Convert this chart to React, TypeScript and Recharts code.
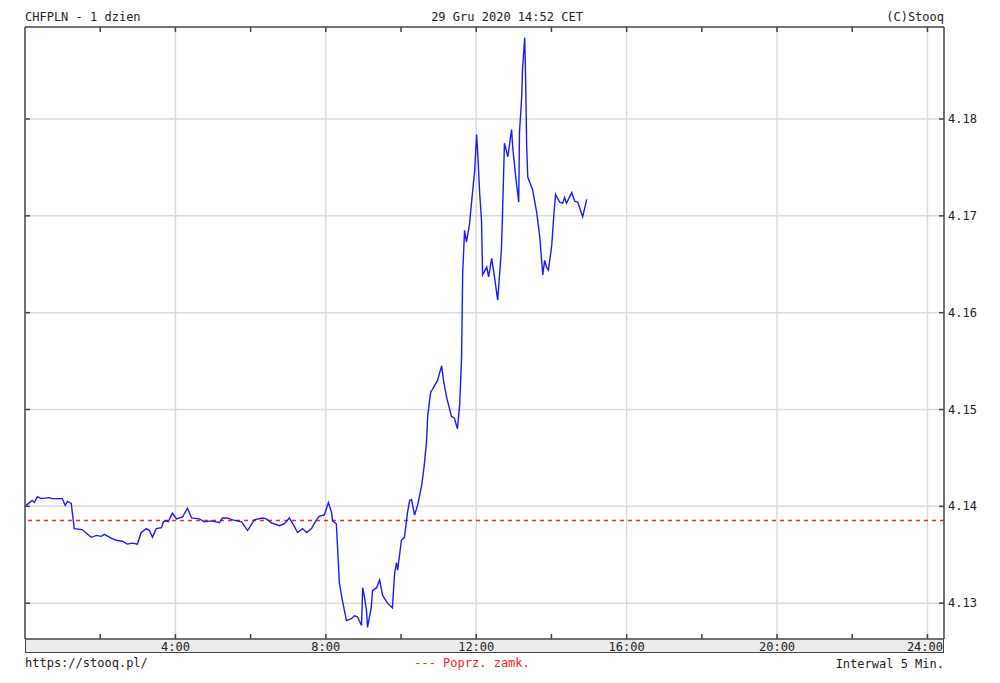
import React from "react";
import {
  CartesianGrid,
  Line,
  LineChart,
  ReferenceLine,
  XAxis,
  YAxis,
} from "recharts";

// CHFPLN intraday, 29 Dec 2020 (hours since midnight, rate)
const HOURS = [
  0.03, 0.19, 0.25, 0.33, 0.43, 0.65, 0.73, 0.99, 1.07, 1.13, 1.23, 1.31, 1.52, 1.76, 1.9,
  2.03, 2.11, 2.3, 2.43, 2.59, 2.72, 2.86, 2.99, 3.09, 3.23, 3.31, 3.39, 3.49, 3.63, 3.68,
  3.76, 3.81, 3.92, 4.03, 4.19, 4.32, 4.43, 4.64, 4.77, 4.96, 5.17, 5.25, 5.38, 5.52, 5.76,
  5.92, 6.1, 6.31, 6.42, 6.55, 6.77, 6.9, 7.03, 7.11, 7.25, 7.38, 7.49, 7.62, 7.75, 7.83,
  7.96, 8.07, 8.15, 8.18, 8.28, 8.36, 8.44, 8.55, 8.68, 8.76, 8.84, 8.95, 8.98, 9.03, 9.08,
  9.11, 9.21, 9.24, 9.35, 9.43, 9.51, 9.64, 9.77, 9.83, 9.88, 9.91, 10.01, 10.09, 10.17,
  10.23, 10.28, 10.36, 10.44, 10.55, 10.62, 10.68, 10.71, 10.79, 10.84, 10.97, 11.08, 11.13,
  11.21, 11.34, 11.42, 11.5, 11.56, 11.61, 11.64, 11.69, 11.74, 11.82, 11.9, 11.96, 12.01,
  12.04, 12.09, 12.14, 12.17, 12.28, 12.33, 12.41, 12.49, 12.57, 12.67, 12.7, 12.75, 12.81,
  12.84, 12.94, 12.97, 13.05, 13.1, 13.13, 13.15, 13.21, 13.23, 13.29, 13.31, 13.34, 13.37,
  13.5, 13.61, 13.69, 13.77, 13.82, 13.87, 13.92, 14.01, 14.06, 14.11, 14.22, 14.3, 14.35,
  14.4, 14.54, 14.62, 14.7, 14.83, 14.94,
];

const RATES = [
  4.1401, 4.1406, 4.1404, 4.141, 4.1408, 4.1409, 4.1408, 4.1408, 4.1401, 4.1405, 4.1403,
  4.1377, 4.1376, 4.1368, 4.137, 4.1369, 4.1371, 4.1367, 4.1365, 4.1364, 4.1361, 4.1362,
  4.1361, 4.1373, 4.1377, 4.1375, 4.1368, 4.1377, 4.1378, 4.1384, 4.1385, 4.1384, 4.1393,
  4.1387, 4.1389, 4.1398, 4.1388, 4.1387, 4.1384, 4.1385, 4.1383, 4.1388, 4.1388, 4.1386,
  4.1384, 4.1375, 4.1386, 4.1388, 4.1387, 4.1383, 4.138, 4.1382, 4.1388, 4.1383, 4.1373,
  4.1377, 4.1373, 4.1377, 4.1386, 4.139, 4.1391, 4.1404, 4.1394, 4.1385, 4.1382, 4.1321,
  4.1303, 4.1282, 4.1284, 4.1287, 4.1286, 4.1277, 4.1316, 4.1306, 4.1293, 4.1275, 4.1296,
  4.1313, 4.1316, 4.1324, 4.1308, 4.13, 4.1295, 4.1331, 4.1342, 4.1334, 4.1365, 4.1368,
  4.1393, 4.1406, 4.1407, 4.1391, 4.1401, 4.1422, 4.1443, 4.1468, 4.1494, 4.1518, 4.1521,
  4.153, 4.1545, 4.153, 4.1513, 4.1493, 4.1491, 4.148, 4.1505, 4.1554, 4.1641, 4.1685,
  4.1673, 4.1691, 4.1724, 4.1747, 4.1784, 4.1765, 4.1724, 4.1696, 4.1639, 4.1647, 4.1637,
  4.1656, 4.1636, 4.1613, 4.1665, 4.1703, 4.1775, 4.1766, 4.1761, 4.1789, 4.1771, 4.174,
  4.1724, 4.1714, 4.1786, 4.1823, 4.1851, 4.1884, 4.1848, 4.1775, 4.174, 4.1727, 4.1703,
  4.1678, 4.1639, 4.1654, 4.1647, 4.1644, 4.167, 4.1699, 4.1722, 4.1714, 4.1713, 4.1719,
  4.1713, 4.1724, 4.1715, 4.1714, 4.1699, 4.1717,
];

const PREV_CLOSE = 4.13855;
const X_TICKS = [0, 2, 4, 6, 8, 10, 12, 14, 16, 18, 20, 22, 24];
const X_GRID = [4, 8, 12, 16, 20, 24];
const Y_TICKS = [4.13, 4.14, 4.15, 4.16, 4.17, 4.18];

const data = HOURS.map((t, i) => ({ t, rate: RATES[i] }));

const FONT = "'DejaVu Sans Mono', monospace";
const FRAME = "#444";

const BottomTick = ({ x, y, payload }: any) => {
  const v = payload.value;
  const label = v > 0 && v % 4 === 0 ? `${v}:00` : "";
  const right = x + 18 > 943;
  return (
    <g>
      {v > 0 && <line x1={x} x2={x} y1={y} y2={y - 5} stroke={FRAME} strokeWidth={1.5} />}
      {label && (
        <text
          x={right ? 943 : x}
          y={y + 12}
          textAnchor={right ? "end" : "middle"}
          fontFamily={FONT}
          fontSize={12}
          fill="#222"
        >
          {label}
        </text>
      )}
    </g>
  );
};

const TopTick = ({ x, y, payload }: any) =>
  payload.value > 0 ? <line x1={x} x2={x} y1={y} y2={y + 5} stroke={FRAME} strokeWidth={1.5} /> : <g />;

const LeftTick = ({ x, y }: any) => (
  <line x1={x} x2={x + 5} y1={y} y2={y} stroke={FRAME} strokeWidth={1.5} />
);

const RightTick = ({ x, y, payload }: any) => (
  <g>
    <line x1={x - 5} x2={x} y1={y} y2={y} stroke={FRAME} strokeWidth={1.5} />
    <text x={x + 4} y={y + 4} fontFamily={FONT} fontSize={12} fill="#222">
      {payload.value.toFixed(2)}
    </text>
  </g>
);

export default function App() {
  return (
    <div style={{ position: "absolute", left: 0, top: 0, width: 1000, height: 683, background: "#fff" }}>
      <div
        style={{
          position: "absolute",
          left: 25,
          top: 639,
          width: 919,
          height: 14,
          boxSizing: "border-box",
          background: "#ececec",
          borderLeft: `1.5px solid ${FRAME}`,
          borderRight: `1.5px solid ${FRAME}`,
          borderBottom: `1.5px solid ${FRAME}`,
        }}
      />
      <div style={{ position: "absolute", left: 0, top: 0 }}>
        <LineChart
          width={1000}
          height={683}
          data={data}
          margin={{ top: 26, right: 6, bottom: 30, left: 24 }}
        >
          <CartesianGrid
            stroke="#dcdcdc"
            strokeWidth={1.5}
            verticalValues={X_GRID}
            horizontalValues={Y_TICKS}
          />
          <XAxis
            dataKey="t"
            type="number"
            domain={[0, 24.44]}
            ticks={X_TICKS}
            interval={0}
            height={14}
            tickSize={0}
            tickMargin={0}
            axisLine={{ stroke: FRAME, strokeWidth: 1.5 }}
            tickLine={false}
            tick={<BottomTick />}
          />
          <XAxis
            xAxisId="top"
            dataKey="t"
            type="number"
            orientation="top"
            domain={[0, 24.44]}
            ticks={X_TICKS}
            interval={0}
            height={1}
            tickSize={0}
            tickMargin={0}
            axisLine={{ stroke: FRAME, strokeWidth: 1.5 }}
            tickLine={false}
            tick={<TopTick />}
          />
          <YAxis
            orientation="right"
            type="number"
            domain={[4.1263, 4.1895]}
            allowDataOverflow
            ticks={Y_TICKS}
            interval={0}
            width={50}
            tickSize={0}
            tickMargin={0}
            axisLine={{ stroke: FRAME, strokeWidth: 1.5 }}
            tickLine={false}
            tick={<RightTick />}
          />
          <YAxis
            yAxisId="l"
            orientation="left"
            type="number"
            domain={[4.1263, 4.1895]}
            allowDataOverflow
            ticks={Y_TICKS}
            interval={0}
            width={1}
            tickSize={0}
            tickMargin={0}
            axisLine={{ stroke: FRAME, strokeWidth: 1.5 }}
            tickLine={false}
            tick={<LeftTick />}
          />
          <ReferenceLine
            y={PREV_CLOSE}
            stroke="#ff2020"
            strokeWidth={1.5}
            strokeDasharray="4 4"
          />
          <Line
            type="linear"
            dataKey="rate"
            stroke="#1a1aff"
            strokeWidth={1.4}
            dot={false}
            isAnimationActive={false}
          />
        </LineChart>
      </div>
      <svg
        width={1000}
        height={683}
        style={{ position: "absolute", left: 0, top: 0, pointerEvents: "none" }}
        fontFamily={FONT}
        fontSize={12}
      >
        <text x={25} y={21} fill="#222">CHFPLN - 1 dzien</text>
        <text x={507} y={21} fill="#222" textAnchor="middle">29 Gru 2020 14:52 CET</text>
        <text x={944} y={21} fill="#222" textAnchor="end">(C)Stooq</text>
        <text x={25} y={667} fill="#222">https://stooq.pl/</text>
        <text x={472} y={667} fill="#ff2020" textAnchor="middle">--- Poprz. zamk.</text>
        <text x={944} y={668} fill="#222" textAnchor="end">Interwal 5 Min.</text>
      </svg>
    </div>
  );
}
